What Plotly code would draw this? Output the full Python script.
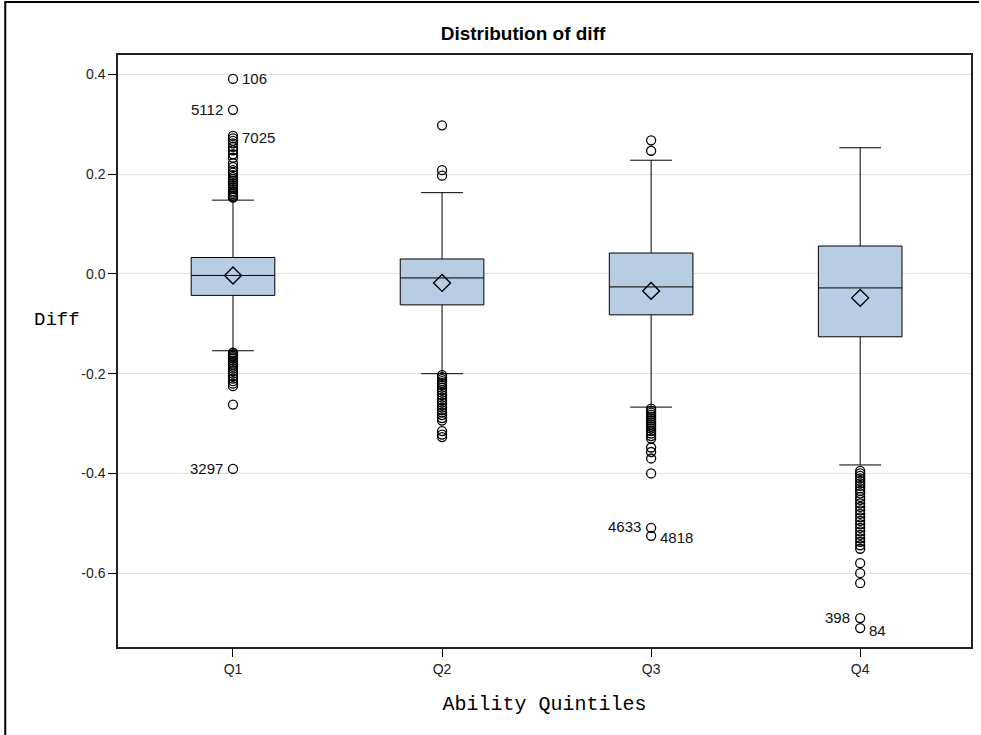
import plotly.graph_objects as go

# ---------------- data ----------------
categories = ["Q1", "Q2", "Q3", "Q4"]
q1_vals = [-0.043, -0.062, -0.082, -0.126]
median_vals = [-0.003, -0.008, -0.026, -0.028]
q3_vals = [0.033, 0.030, 0.042, 0.056]
lower_whisker = [-0.154, -0.200, -0.267, -0.383]
upper_whisker = [0.148, 0.163, 0.228, 0.253]
mean_vals = [-0.003, -0.018, -0.034, -0.048]

out_q1 = [0.391, 0.329, 0.277, 0.272, 0.267, 0.262, 0.255, 0.248, 0.240, 0.233,
          0.222, 0.214, 0.208, 0.203, 0.198, 0.194, 0.190, 0.186, 0.182, 0.178,
          0.174, 0.170, 0.166, 0.163, 0.160, 0.157, 0.155, 0.153,
          -0.158, -0.161, -0.164, -0.167, -0.170, -0.174, -0.178, -0.182, -0.186,
          -0.190, -0.195, -0.200, -0.205, -0.210, -0.215, -0.220, -0.225,
          -0.262, -0.391]
out_q2 = [0.298, 0.208, 0.197,
          -0.203, -0.207, -0.211, -0.215, -0.219, -0.223, -0.228, -0.233, -0.238,
          -0.243, -0.248, -0.253, -0.258, -0.263, -0.268, -0.273, -0.278, -0.283,
          -0.289, -0.294, -0.315, -0.322, -0.327]
out_q3 = [0.268, 0.247,
          -0.270, -0.274, -0.278, -0.282, -0.286, -0.290, -0.294, -0.298, -0.302,
          -0.306, -0.310, -0.315, -0.320, -0.325, -0.330, -0.348, -0.357, -0.370,
          -0.400, -0.509, -0.525]
out_q4 = [-0.395, -0.400, -0.405, -0.410, -0.415, -0.420, -0.425, -0.430, -0.435,
          -0.440, -0.447, -0.453, -0.460, -0.467, -0.474, -0.481, -0.488, -0.495,
          -0.502, -0.509, -0.516, -0.523, -0.530, -0.537, -0.544, -0.551,
          -0.580, -0.600, -0.620, -0.690, -0.710]
outliers = [out_q1, out_q2, out_q3, out_q4]

label_cat = ["Q1", "Q1", "Q1", "Q1", "Q3", "Q3", "Q4", "Q4"]
label_val = [0.391, 0.329, 0.277, -0.391, -0.509, -0.525, -0.690, -0.710]
label_text = ["106", "5112", "7025", "3297", "4633", "4818", "398", "84"]
label_side = ["right", "left", "right", "left", "left", "right", "left", "right"]
label_dy = [0, 0, 2, 0, -1, 2, -1, 2]

y_ticks = [0.4, 0.2, 0.0, -0.2, -0.4, -0.6]
y_tick_text = ["0.4", "0.2", "0.0", "-0.2", "-0.4", "-0.6"]

# ---------------- layout geometry (pixels) ----------------
W, H = 981, 735
ML, MR, MT, MB = 118, 8, 55, 88
PW, PH = W - ML - MR, H - MT - MB


def px_x(x):
    return (x - ML) / PW


def px_y(y):
    return (H - MB - y) / PH


# ---------------- figure ----------------
fig = go.Figure()

fig.add_trace(go.Box(
    x=categories, q1=q1_vals, median=median_vals, q3=q3_vals,
    lowerfence=lower_whisker, upperfence=upper_whisker,
    boxpoints=False, width=0.4, whiskerwidth=0.5,
    fillcolor="#b8cce4", line=dict(color="#000000", width=1),
    showlegend=False, hoverinfo="skip",
))

ox, oy = [], []
for c, vals in zip(categories, outliers):
    ox += [c] * len(vals)
    oy += vals
fig.add_trace(go.Scatter(
    x=ox, y=oy, mode="markers", showlegend=False,
    marker=dict(symbol="circle-open", size=9, color="#000000", line=dict(width=1.3)),
))

fig.add_trace(go.Scatter(
    x=categories, y=mean_vals, mode="markers", showlegend=False,
    marker=dict(symbol="diamond-open", size=13, color="#000000", line=dict(width=1.4)),
))

for c, v, t, s, dy in zip(label_cat, label_val, label_text, label_side, label_dy):
    fig.add_annotation(
        x=c, y=v, xref="x", yref="y", text=t, showarrow=False,
        xanchor="left" if s == "right" else "right",
        xshift=7 if s == "right" else -8, yshift=-dy,
        font=dict(family="Liberation Sans, Arial", size=15, color="#111111"),
    )

# y axis title (horizontal)
fig.add_annotation(
    x=px_x(57), y=px_y(320), xref="paper", yref="paper", text="Diff", showarrow=False,
    xanchor="center", yanchor="middle",
    font=dict(family="Liberation Mono, Courier New", size=19, color="#000000"),
)

# outer top and left border
fig.add_shape(type="line", xref="paper", yref="paper",
              x0=px_x(4), x1=px_x(981), y0=px_y(2), y1=px_y(2),
              line=dict(color="#000000", width=2))
fig.add_shape(type="line", xref="paper", yref="paper",
              x0=px_x(5), x1=px_x(5), y0=px_y(2), y1=px_y(740),
              line=dict(color="#000000", width=2))

fig.update_layout(
    width=W, height=H,
    margin=dict(l=ML, r=MR, t=MT, b=MB),
    paper_bgcolor="white", plot_bgcolor="white",
    title=dict(text="<b>Distribution of diff</b>", x=523 / W, xref="container",
               xanchor="center", y=1 - 33 / H, yref="container", yanchor="middle",
               font=dict(family="Liberation Sans, Arial", size=19, color="#000000")),
    xaxis=dict(
        type="category", categoryorder="array", categoryarray=categories,
        range=[-0.55, 3.53], showgrid=False, zeroline=False,
        showline=True, linecolor="#222222", linewidth=1.5, mirror=True,
        ticks="outside", ticklen=8, tickcolor="#000000",
        tickfont=dict(family="Liberation Sans, Arial", size=14, color="#222222"),
        title=dict(text="Ability Quintiles", standoff=20,
                   font=dict(family="Liberation Mono, Courier New", size=20, color="#000000")),
    ),
    yaxis=dict(
        range=[-0.748, 0.439], tickvals=y_ticks, ticktext=y_tick_text,
        showgrid=True, gridcolor="#e3e3e3", gridwidth=1, zeroline=False,
        showline=True, linecolor="#222222", linewidth=1.5, mirror=True,
        ticks="outside", ticklen=8, tickcolor="#000000",
        tickfont=dict(family="Liberation Sans, Arial", size=14, color="#222222"),
    ),
)

fig.write_html("out.html")
